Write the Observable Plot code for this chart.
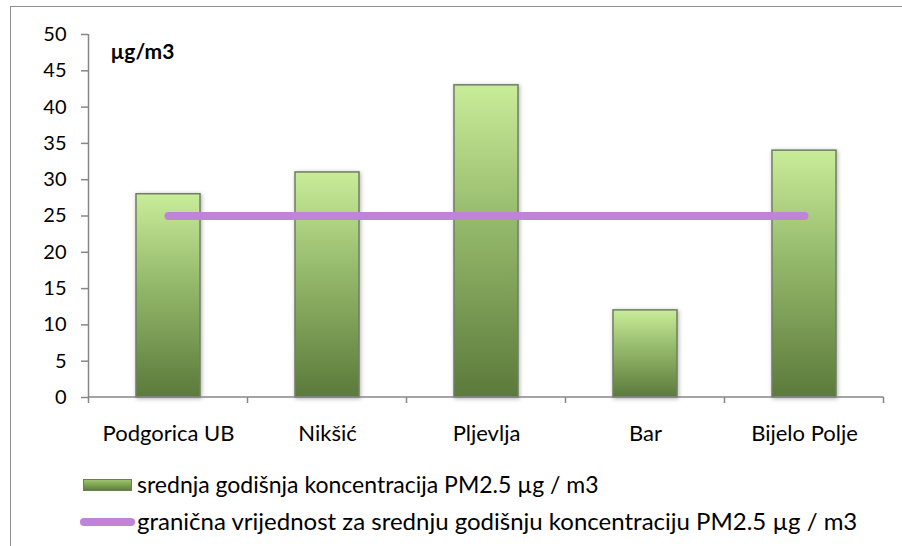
<!DOCTYPE html>
<html><head><meta charset="utf-8">
<script src="https://cdn.jsdelivr.net/npm/d3@7"></script>
<script src="https://cdn.jsdelivr.net/npm/@observablehq/plot@0.6"></script>
<style>
html,body{margin:0;padding:0;background:#fff;overflow:hidden;width:902px;height:546px;font-family:Lato,"Open Sans",sans-serif;}
#frame{position:absolute;left:10px;top:6px;width:1000px;height:700px;border:1px solid #8f8f8f;box-sizing:border-box;}
#chart{position:absolute;left:0;top:0;}
#chart svg text{font-family:Lato,"Open Sans",sans-serif;font-size:20px;fill:#000;}
#chart svg text.unit{font-size:21px;font-weight:bold;}
.leg{position:absolute;left:0;font-size:23px;color:#000;white-space:nowrap;line-height:26px;}
</style></head>
<body>
<div id="frame"></div>
<div id="chart"></div>
<div class="leg" style="top:471px;left:83px;"><span style="display:inline-block;width:49px;height:12px;vertical-align:middle;margin-right:5px;background:linear-gradient(#9cc46c,#5e7f3d);border:1px solid #6b7f55;box-sizing:border-box;position:relative;top:-2px"></span>srednja godišnja koncentracija PM2.5 µg / m3</div>
<div class="leg" style="top:508px;left:80px;font-size:24px;"><span style="display:inline-block;width:55px;height:8px;border-radius:4px;vertical-align:middle;margin-right:2px;background:#bf84d8;position:relative;top:-2px"></span>granična vrijednost za srednju godišnju koncentraciju PM2.5 µg / m3</div>
<script>
const stations = ["Podgorica UB", "Nikšić", "Pljevlja", "Bar", "Bijelo Polje"];
const pm25 = [28, 31, 43, 12, 34];
const limitValue = 25;
const yTicks = [0, 5, 10, 15, 20, 25, 30, 35, 40, 45, 50];

const barData = stations.map((s, i) => ({station: s, value: pm25[i]}));
const limitData = stations.map(s => ({station: s, value: limitValue}));

const svgNS = "http://www.w3.org/2000/svg";
function axisLines(index, scales, values, dimensions) {
  const x = scales.x;
  const step = x(stations[1]) - x(stations[0]);
  const bw = x.bandwidth ? x.bandwidth() : step * 0.4;
  const offset = (step - bw) / 2;
  const g = document.createElementNS(svgNS, "g");
  const y0 = dimensions.height - dimensions.marginBottom;
  const yTop = dimensions.marginTop;
  const xs = stations.map(s => x(s) - offset);
  xs.push(x(stations[stations.length - 1]) + bw + offset);
  const mk = (x1, y1, x2, y2) => {
    const l = document.createElementNS(svgNS, "line");
    l.setAttribute("x1", x1); l.setAttribute("x2", x2);
    l.setAttribute("y1", y1); l.setAttribute("y2", y2);
    l.setAttribute("stroke", "#868686"); l.setAttribute("stroke-width", 1.5);
    g.appendChild(l);
  };
  mk(xs[0], yTop, xs[0], y0);
  mk(xs[0], y0, xs[xs.length - 1], y0);
  for (const xv of xs) mk(xv, y0, xv, y0 + 6);
  return g;
}

const chart = Plot.plot({
  width: 902,
  height: 460,
  marginTop: 34,
  marginBottom: 63,
  marginLeft: 88,
  marginRight: 18,
  style: {fontFamily: "Lato, 'Open Sans', sans-serif", fontSize: "20px", color: "#000", background: "transparent", overflow: "visible"},
  x: {domain: stations, paddingInner: 0.6, paddingOuter: 0.3, label: null},
  y: {domain: [0, 50], ticks: yTicks, label: null},
  marks: [
    Plot.axisY({ticks: yTicks, tickSize: 7, tickPadding: 15, stroke: "#868686", strokeWidth: 1.5, label: null}),
    Plot.axisX({tickSize: 0, tickPadding: 28, label: null}),
    Plot.barY(barData, {x: "station", y: "value", fill: "url(#barGrad)", stroke: "#6f7f62", strokeWidth: 1.5}),
    axisLines,
    Plot.lineY(limitData, {x: "station", y: "value", stroke: "#bf84d8", strokeWidth: 8, strokeLinecap: "round"}),
    Plot.text(["µg/m3"], {frameAnchor: "top-left", dx: 22, dy: 18, text: d => d, fontWeight: "bold", textAnchor: "start", lineAnchor: "middle"})
  ]
});

const defs = document.createElementNS(svgNS, "defs");
defs.innerHTML = `<linearGradient id="barGrad" x1="0" y1="0" x2="0" y2="1">
  <stop offset="0" stop-color="#c8ec98"/>
  <stop offset="0.45" stop-color="#94b86a"/>
  <stop offset="1" stop-color="#5b7a3b"/>
</linearGradient>`;
chart.insertBefore(defs, chart.firstChild);
chart.querySelectorAll("rect").forEach(r => {
  const f = r.getAttribute("fill") || (r.parentNode && r.parentNode.getAttribute("fill")) || "";
  if (f.includes("barGrad")) r.style.filter = "drop-shadow(1px 1px 2px rgba(0,0,0,0.3))";
});
chart.querySelectorAll("text").forEach(t => {
  if (t.textContent === "µg/m3") t.setAttribute("class", "unit");
  if (stations.includes(t.textContent)) t.style.fontSize = "22px";
});
document.getElementById("chart").appendChild(chart);
</script>
</body></html>
